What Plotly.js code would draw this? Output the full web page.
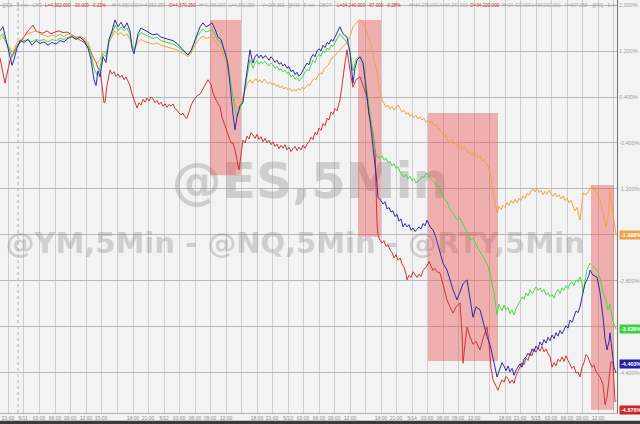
<!DOCTYPE html>
<html><head><meta charset="utf-8">
<script src="https://cdn.plot.ly/plotly-3.0.1.min.js"></script>
<style>html,body{margin:0;padding:0;background:#f3f3f3;}#chart{width:640px;height:424px;}</style>
</head><body><div id="chart"></div>
<script>
// ---- data: [bar index (5-min bars), % change] per series ----
const bluePts = [[0,1.55],[3,1.62],[6,1.40],[9,1.20],[12,0.95],[14,1.05],[17,1.25],[20,1.38],[24,1.35],[28,1.40],[32,1.30],[36,1.38],[40,1.33],[44,1.36],[48,1.30],[52,1.35],[56,1.32],[60,1.38],[64,1.36],[68,1.42],[72,1.45],[76,1.40],[80,1.44],[84,1.38],[88,1.25],[91,1.05],[94,0.70],[96,0.60],[98,0.85],[100,0.75],[103,1.10],[106,1.00],[109,1.40],[112,1.55],[115,1.74],[118,1.62],[121,1.70],[124,1.60],[127,1.69],[130,1.55],[132,1.25],[134,1.15],[136,1.30],[138,1.50],[141,1.60],[145,1.56],[149,1.52],[153,1.48],[157,1.50],[161,1.44],[165,1.42],[169,1.40],[173,1.38],[177,1.33],[181,1.25],[185,1.18],[188,1.13],[191,1.20],[194,1.35],[197,1.50],[200,1.62],[203,1.69],[206,1.62],[209,1.65],[212,1.69],[215,1.58],[218,1.44],[221,1.40],[224,1.20],[227,1.05],[229,0.80],[231,0.40],[233,0.10],[235,-0.17],[237,0.05],[240,0.25],[243,0.30],[245,0.60],[247,0.87],[249,1.10],
[250,1.22],[252,1.05],[253,0.99],[255,1.10],[257,1.14],[259,1.08],[261,1.13],[263,1.07],[265,1.12],[267,1.09],[269,1.04],[271,1.10],[273,1.06],[275,1.00],[277,1.04],[279,0.97],[281,1.00],[283,0.94],[285,0.97],[287,0.90],[289,0.93],[291,0.84],[293,0.87],[295,0.79],[297,0.83],[299,0.76],[301,0.80],[303,0.87],[305,0.92],[307,0.99],[309,0.96],[311,1.08],[313,1.14],[315,1.10],[317,1.20],[319,1.24],[321,1.20],[323,1.30],[325,1.26],[327,1.35],[329,1.32],[331,1.40],[333,1.37],[335,1.45],[337,1.50],[338,1.55],[340,1.62],[343,1.50],[347,1.44],[350,1.17],[353,0.64],[355,0.90],[357,1.04],[360,1.10],[363,0.99],[365,0.70],[367,0.35],[369,0.10],[370,0.00],[372,-0.30],[373,-0.40],[375,-0.80],[377,-1.10],[378,-1.35],
[381,-1.40],[383,-1.46],[385,-1.42],[387,-1.55],[389,-1.52],[391,-1.60],[393,-1.58],[395,-1.68],[397,-1.64],[399,-1.76],[401,-1.72],[403,-1.86],[405,-1.80],[407,-1.86],[409,-1.82],[411,-1.92],[413,-1.88],[415,-1.94],[417,-1.90],[419,-1.86],[421,-1.90],[423,-1.80],[425,-1.84],[427,-1.74],[429,-1.82],[431,-1.88],[433,-1.91],[436,-2.05],[440,-2.30],[443,-2.49],[447,-2.61],[450,-2.80],[453,-2.95],[457,-3.13],[460,-2.98],[463,-2.85],[467,-2.78],[470,-3.10],[473,-3.43],[476,-3.25],[480,-3.30],[483,-3.50],[487,-3.77],[490,-3.90],[493,-4.12],[495,-4.30],[497,-4.47],
[500,-4.30],[502,-4.22],[504,-4.28],[506,-4.36],[508,-4.28],[510,-4.38],[512,-4.32],[514,-4.44],[516,-4.35],[518,-4.30],[520,-4.24],[522,-4.30],[524,-4.16],[526,-4.12],[528,-4.06],[530,-4.10],[532,-3.98],[534,-4.03],[536,-3.93],[538,-3.98],[540,-3.86],[542,-3.92],[544,-3.82],[546,-3.88],[548,-3.78],[550,-3.84],[552,-3.74],[554,-3.80],[556,-3.70],[558,-3.76],[560,-3.66],[562,-3.72],[564,-3.64],[566,-3.58],[568,-3.62],[570,-3.48],[572,-3.52],[574,-3.42],[576,-3.32],[578,-3.35],[580,-3.25],[583,-3.00],[585,-2.85],[587,-2.78],[589,-2.70],[590,-2.61],[593,-2.70],[597,-2.73],[600,-3.00],[603,-3.43],[605,-3.80],[607,-4.00],[609,-3.85],[610,-3.70],[612,-4.00],[614,-4.30],[616,-4.40]];

const greenPts = [[0,1.45],[3,1.50],[6,1.35],[9,1.25],[12,1.10],[14,1.15],[17,1.30],[20,1.36],[24,1.38],[28,1.40],[32,1.36],[36,1.40],[40,1.38],[44,1.40],[48,1.36],[52,1.40],[56,1.38],[60,1.42],[64,1.40],[68,1.44],[72,1.45],[76,1.42],[80,1.44],[84,1.40],[88,1.30],[91,1.15],[94,0.90],[97,0.78],[100,0.92],[103,1.15],[106,1.10],[109,1.40],[112,1.50],[115,1.65],[118,1.55],[121,1.62],[124,1.55],[127,1.60],[130,1.48],[132,1.30],[134,1.22],[136,1.35],[138,1.45],[141,1.52],[145,1.48],[149,1.45],[153,1.42],[157,1.44],[161,1.38],[165,1.36],[169,1.34],[173,1.32],[177,1.28],[181,1.22],[185,1.17],[188,1.13],[191,1.20],[194,1.32],[197,1.45],[200,1.52],[203,1.58],[206,1.53],[209,1.55],[212,1.57],[215,1.48],[218,1.38],[221,1.36],[224,1.20],[227,1.05],[229,0.85],[231,0.60],[233,0.40],[235,0.20],[237,0.05],[240,0.20],[243,0.35],[245,0.55],[247,0.75],[249,0.95],
[250,1.05],[252,0.95],[253,0.90],[255,1.00],[257,1.03],[259,0.97],[261,1.01],[263,0.98],[265,1.02],[267,0.97],[269,0.94],[271,0.99],[273,0.96],[275,0.90],[277,0.93],[279,0.87],[281,0.89],[283,0.84],[285,0.87],[287,0.81],[289,0.83],[291,0.75],[293,0.78],[295,0.71],[297,0.74],[299,0.68],[301,0.71],[303,0.77],[305,0.82],[307,0.88],[309,0.86],[311,0.97],[313,1.04],[315,1.00],[317,1.10],[319,1.14],[321,1.11],[323,1.20],[325,1.17],[327,1.25],[329,1.22],[331,1.30],[333,1.28],[335,1.35],[337,1.40],[338,1.44],[340,1.50],[343,1.42],[347,1.36],[350,1.20],[353,0.85],[355,1.00],[357,1.08],[360,1.10],[363,1.02],[365,0.80],[367,0.50],[369,0.25],[370,0.10],[372,-0.20],[373,-0.30],[375,-0.55],[377,-0.64],
[380,-0.66],[382,-0.62],[384,-0.70],[386,-0.66],[388,-0.74],[390,-0.72],[392,-0.80],[394,-0.76],[396,-0.84],[398,-0.81],[400,-0.90],[402,-0.94],[404,-0.99],[406,-0.95],[408,-1.02],[410,-0.98],[412,-1.06],[414,-1.02],[416,-1.10],[418,-1.06],[420,-1.04],[422,-0.98],[424,-1.00],[426,-0.92],[428,-0.95],[430,-1.00],[432,-1.04],[434,-1.08],[436,-1.12],[438,-1.16],[440,-1.20],[443,-1.34],[447,-1.42],[450,-1.55],[453,-1.62],[457,-1.74],[460,-1.70],[463,-1.82],[467,-1.95],[470,-2.09],[473,-2.05],[477,-2.20],[480,-2.30],[483,-2.38],[487,-2.50],[490,-2.66],[492,-2.85],[494,-3.00],[497,-3.39],[499,-3.20],
[500,-3.25],[502,-3.32],[504,-3.22],[506,-3.30],[508,-3.26],[510,-3.37],[512,-3.30],[514,-3.39],[516,-3.28],[518,-3.20],[520,-3.15],[522,-3.08],[524,-3.12],[526,-3.01],[528,-3.06],[530,-2.95],[532,-3.02],[534,-2.97],[536,-2.90],[538,-2.96],[540,-2.92],[542,-2.99],[544,-2.95],[546,-3.04],[548,-3.00],[550,-3.07],[552,-3.03],[554,-3.10],[556,-3.00],[558,-2.95],[560,-3.02],[562,-2.92],[564,-2.96],[566,-2.88],[568,-2.93],[570,-2.85],[572,-2.82],[574,-2.88],[576,-2.78],[578,-2.82],[580,-2.73],[582,-2.85],[583,-3.01],[585,-2.80],[587,-2.60],[590,-2.49],[593,-2.55],[597,-2.61],[600,-2.75],[603,-3.00],[606,-3.13],[608,-3.30],[610,-3.20],[612,-3.45],[614,-3.55],[616,-3.64]];

const orangePts = [[0,1.40],[3,1.45],[6,1.35],[9,1.28],[12,1.18],[14,1.22],[17,1.35],[20,1.40],[24,1.45],[28,1.50],[32,1.52],[36,1.55],[40,1.50],[44,1.48],[48,1.45],[52,1.48],[56,1.45],[60,1.50],[64,1.45],[68,1.50],[72,1.48],[76,1.44],[80,1.46],[84,1.42],[88,1.35],[91,1.20],[94,1.05],[97,0.99],[100,1.05],[103,1.20],[106,1.15],[109,1.35],[112,1.45],[115,1.55],[118,1.48],[121,1.52],[124,1.46],[127,1.50],[130,1.40],[132,1.28],[134,1.22],[136,1.30],[138,1.36],[141,1.40],[145,1.36],[149,1.34],[153,1.32],[157,1.34],[161,1.30],[165,1.28],[169,1.26],[173,1.25],[177,1.22],[181,1.18],[185,1.13],[188,1.10],[191,1.16],[194,1.25],[197,1.36],[200,1.42],[203,1.46],[206,1.42],[209,1.44],[212,1.45],[215,1.38],[218,1.30],[221,1.25],[224,1.10],[227,0.95],[229,0.80],[231,0.60],[233,0.42],[235,0.30],[237,0.20],[240,0.25],[243,0.40],[245,0.50],[247,0.62],
[250,0.70],[252,0.64],[254,0.69],[256,0.72],[258,0.66],[260,0.70],[262,0.65],[264,0.71],[266,0.67],[268,0.63],[270,0.66],[272,0.61],[274,0.64],[276,0.59],[278,0.61],[280,0.56],[282,0.59],[284,0.54],[286,0.57],[288,0.52],[290,0.55],[292,0.50],[294,0.53],[296,0.50],[298,0.55],[300,0.52],[302,0.57],[304,0.54],[306,0.58],[308,0.62],[310,0.60],[312,0.68],[314,0.72],[316,0.70],[318,0.78],[320,0.82],[322,0.80],[324,0.88],[326,0.92],[328,0.95],[330,1.02],[332,1.08],[334,1.10],[336,1.15],[338,1.18],[340,1.22],[344,1.30],[347,1.34],[350,1.45],[353,1.62],[356,1.68],[358,1.72],[360,1.74],[362,1.70],[363,1.69],[365,1.62],[367,1.50],[370,1.39],[372,1.20],[374,1.05],[377,0.87],[379,0.60],
[382,0.35],[384,0.28],[386,0.22],[388,0.26],[390,0.19],[392,0.24],[394,0.17],[396,0.22],[398,0.26],[400,0.20],[402,0.14],[404,0.17],[406,0.10],[408,0.13],[410,0.06],[412,0.10],[414,0.04],[416,0.08],[418,0.02],[420,0.06],[422,0.00],[424,0.03],[426,-0.04],[428,0.00],[430,-0.06],[432,-0.02],[434,-0.10],[436,-0.08],[438,-0.15],[440,-0.17],[442,-0.22],[444,-0.30],[446,-0.26],[448,-0.36],[450,-0.40],[452,-0.34],[454,-0.43],[456,-0.38],[458,-0.47],[460,-0.44],[462,-0.52],[464,-0.46],[466,-0.50],[468,-0.58],[470,-0.55],[472,-0.62],[474,-0.54],[476,-0.63],[478,-0.66],[480,-0.62],[482,-0.72],[484,-0.68],[486,-0.76],[488,-0.80],[490,-0.92],[492,-1.15],[494,-1.35],[496,-1.50],[497,-1.62],[499,-1.50],
[501,-1.56],[503,-1.48],[505,-1.52],[507,-1.44],[509,-1.49],[511,-1.40],[513,-1.45],[515,-1.38],[517,-1.44],[519,-1.36],[521,-1.40],[523,-1.32],[525,-1.36],[527,-1.28],[529,-1.31],[531,-1.24],[533,-1.20],[535,-1.25],[537,-1.18],[539,-1.26],[541,-1.22],[543,-1.30],[545,-1.24],[547,-1.29],[549,-1.22],[551,-1.28],[553,-1.33],[555,-1.27],[557,-1.34],[559,-1.30],[561,-1.37],[563,-1.32],[565,-1.40],[567,-1.36],[569,-1.44],[571,-1.40],[573,-1.50],[575,-1.58],[577,-1.52],[579,-1.70],[580,-1.74],[582,-1.45],[583,-1.27],[586,-1.30],[588,-1.25],[590,-1.22],[592,-1.15],[594,-1.20],[596,-1.25],[600,-1.39],[603,-1.60],[606,-1.86],[608,-1.70],[610,-1.22],[612,-1.50],[614,-1.80],[616,-2.00]];

const redPts = [[0,1.08],[2,0.90],[5,0.64],[7,0.80],[10,1.04],[13,1.15],[16,1.25],[20,1.34],[24,1.45],[28,1.55],[33,1.65],[36,1.55],[40,1.52],[43,1.51],[47,1.55],[51,1.50],[55,1.53],[59,1.55],[63,1.52],[67,1.53],[70,1.50],[74,1.45],[77,1.42],[80,1.39],[84,1.35],[87,1.28],[90,1.22],[93,1.10],[96,1.00],[98,0.90],[100,0.87],[102,0.60],[104,0.30],[105,0.31],[107,0.60],
[110,0.87],[112,0.80],[114,0.84],[116,0.76],[118,0.80],[120,0.74],[122,0.78],[124,0.70],[126,0.75],[128,0.68],[130,0.60],[132,0.45],[134,0.35],[136,0.25],[137,0.21],[139,0.30],[141,0.26],[143,0.36],[145,0.31],[147,0.38],[149,0.33],[151,0.40],[153,0.37],[155,0.30],[157,0.34],[159,0.27],[161,0.31],[163,0.24],[165,0.28],[167,0.22],[169,0.27],[171,0.24],[173,0.28],[175,0.20],[177,0.17],[179,0.12],[181,0.09],[183,0.12],[185,0.05],[187,0.03],[189,0.15],[191,0.25],[193,0.33],[195,0.38],[197,0.42],[200,0.45],[203,0.55],[206,0.66],[208,0.70],[211,0.62],[213,0.47],[216,0.35],[218,0.30],[220,0.23],[222,0.05],[224,-0.05],[227,-0.17],[229,-0.30],[231,-0.40],[233,-0.40],[235,-0.52],[237,-0.70],[239,-0.87],
[241,-0.60],[243,-0.35],[245,-0.40],[247,-0.28],[249,-0.33],[251,-0.22],[253,-0.26],[255,-0.32],[257,-0.25],[259,-0.34],[261,-0.29],[263,-0.38],[265,-0.32],[267,-0.40],[269,-0.35],[271,-0.43],[273,-0.38],[275,-0.46],[277,-0.42],[279,-0.50],[281,-0.44],[283,-0.49],[285,-0.43],[287,-0.52],[289,-0.47],[291,-0.55],[293,-0.50],[295,-0.46],[297,-0.53],[299,-0.47],[301,-0.52],[303,-0.44],[305,-0.49],[307,-0.42],[309,-0.38],[311,-0.30],[313,-0.34],[315,-0.22],[317,-0.26],[319,-0.14],[321,-0.18],[323,-0.06],[325,-0.10],[327,0.03],[329,0.00],[331,0.14],[333,0.10],[335,0.20],[337,0.16],[339,0.30],[340,0.35],[342,0.60],[343,0.75],[345,1.00],[347,1.22],[349,0.95],[351,0.75],[353,0.57],[356,0.70],[360,0.75],[363,0.60],[367,0.40],[369,0.10],[371,-0.10],[373,-0.23],[375,-0.52],[376,-1.20],[377,-1.80],[378,-2.00],
[380,-2.09],[382,-2.14],[384,-2.10],[386,-2.20],[388,-2.17],[390,-2.26],[392,-2.30],[394,-2.40],[396,-2.34],[398,-2.44],[400,-2.40],[402,-2.50],[404,-2.56],[406,-2.68],[407,-2.78],[409,-2.70],[411,-2.74],[413,-2.64],[415,-2.70],[417,-2.74],[419,-2.68],[421,-2.72],[423,-2.62],[425,-2.58],[427,-2.54],[429,-2.46],[431,-2.55],[433,-2.62],[435,-2.58],[437,-2.64],[440,-2.66],[443,-2.85],[447,-3.13],[450,-3.25],[453,-3.36],[456,-3.25],[460,-3.18],[462,-3.70],[463,-4.23],[465,-3.90],[467,-3.60],[470,-3.77],[473,-3.90],[476,-3.85],[480,-4.00],[483,-3.80],[487,-3.60],[489,-3.90],[491,-4.30],[493,-4.52],[495,-4.60],[498,-4.70],
[500,-4.60],[502,-4.52],[504,-4.56],[506,-4.46],[508,-4.50],[510,-4.58],[512,-4.52],[514,-4.58],[516,-4.45],[518,-4.38],[520,-4.30],[522,-4.22],[524,-4.26],[526,-4.14],[528,-4.18],[530,-4.05],[532,-4.10],[534,-3.98],[536,-4.04],[538,-3.96],[540,-4.02],[542,-3.94],[544,-4.03],[546,-3.98],[548,-4.06],[550,-4.12],[552,-4.30],[554,-4.22],[556,-4.28],[558,-4.16],[560,-4.20],[562,-4.12],[564,-4.20],[566,-4.10],[568,-4.18],[570,-4.26],[572,-4.32],[574,-4.28],[576,-4.40],[578,-4.38],[580,-4.47],[582,-4.30],[584,-4.22],[586,-4.08],[588,-4.12],[590,-4.22],[592,-4.30],[594,-4.26],[596,-4.38],[598,-4.42],[600,-4.47],[603,-4.60],[605,-4.95],[607,-4.82],[609,-4.50],[611,-4.20],[613,-4.23],[614,-4.60],[615,-4.90],[616,-4.88]];

const lastLabels = ['-1.998%','-3.636%','-4.403%','-4.876%'];
const tickVals = [8,23,39,55,70,86,101,117,133,148,164,179,195,210,226,241,257,272,288,303,319,334,350,365,381,396,412,427,443,458,474,489,505,520,536,551,567,582,598,613];
const tickText = ['21:00','5/11','03:00','06:00','09:00','12:00','15:00','','18:00','21:00','5/12','03:00','06:00','09:00','12:00','','18:00','21:00','5/13','03:00','06:00','09:00','12:00','','18:00','21:00','5/14','03:00','06:00','09:00','12:00','','18:00','21:00','5/15','03:00','06:00','09:00','12:00',''];
const yTicks = [2.0,1.2,0.4,-0.4,-1.2,-2.0,-2.8,-3.6,-4.4];
const yTickHidden = [-2.0,-3.6];   // covered by last-value badges in the original
const highlightSpans = [[210,241,1.74,-0.96],[358,381,1.74,-2.03],[428,498,0.12,-4.19],[591,614,-1.13,-5.04]];
const sessionBreaks = [18];

const C = {blue:'#2c2ca6', green:'#4ad64a', orange:'#f0a245', red:'#cf3535'};
function tr(pts,c){return {x:pts.map(p=>p[0]),y:pts.map(p=>p[1]),type:'scatter',mode:'lines',line:{color:c,width:1},hoverinfo:'skip'};}
const traces = [tr(redPts,C.red), tr(orangePts,C.orange), tr(greenPts,C.green), tr(bluePts,C.blue)];

const shapes = [];
sessionBreaks.forEach(b=>shapes.push({type:'line',xref:'x',yref:'paper',x0:b,x1:b,y0:0,y1:1,line:{color:'#b0b0b0',width:1,dash:'dot'},layer:'between'}));
shapes.push({type:'rect',xref:'x',yref:'y',x0:150,x1:470,y0:-0.6,y1:-1.4,line:{width:0},fillcolor:'rgba(0,0,0,0)',layer:'between',
  label:{text:'<b>@ES,5Min</b>',font:{family:'DejaVu Sans',size:50,color:'rgba(140,140,140,0.36)'},textposition:'middle center'}});
shapes.push({type:'rect',xref:'x',yref:'y',x0:0,x1:590,y0:-1.9,y1:-2.3,line:{width:0},fillcolor:'rgba(0,0,0,0)',layer:'between',
  label:{text:'<b>@YM,5Min - @NQ,5Min - @RTY,5Min</b>',font:{family:'DejaVu Sans',size:29,color:'rgba(140,140,140,0.36)'},textposition:'middle center'}});
highlightSpans.forEach(s=>shapes.push({type:'rect',xref:'x',yref:'y',x0:s[0],x1:s[1],y0:s[2],y1:s[3],line:{width:0},fillcolor:'rgba(236,72,72,0.40)',layer:'between'}));
shapes.push({type:'rect',xref:'paper',yref:'paper',x0:0,x1:1.04,y0:-0.0266,y1:-0.019,line:{width:0},fillcolor:'#3b3b3b'});

const ann = [];
const hdr = [
 [0,'@ES · 5 min · CME','#a8a8a8'],[43,'L=4,302.000  -10.000  -0.23%','#c83030'],[110,'H=4,350.000','#a8a8a8'],[137,'A=4,352.250','#a8a8a8'],
 [167,'O=4,370.250','#c83030'],[197,'H=4,386.000','#a8a8a8'],[227,'L=4,302.250','#a8a8a8'],[260,'V=188,363','#a8a8a8'],[286,'@YM · 5 min · CBOT','#a8a8a8'],
 [335,'L=34,240.000  -97.000  -0.28%','#c83030'],[407,'H=34,275.000','#a8a8a8'],[437,'A=34,241.000','#a8a8a8'],[468,'O=34,220.000','#c83030'],
 [500,'H=34,421.000','#a8a8a8'],[530,'L=34,231.000','#a8a8a8'],[563,'V=607,358','#a8a8a8'],[590,'@NQ · 5 m','#a8a8a8']];
hdr.forEach(h=>ann.push({xref:'x',yref:'paper',x:h[0],y:1,xanchor:'left',yanchor:'top',text:h[1],showarrow:false,font:{family:'Liberation Sans',size:4.6,color:h[2]},yshift:-1}));
const lastVals = [orangePts, greenPts, bluePts, redPts].map(p=>p[p.length-1][1]);
const badgeCols = [C.orange,'#3ecf3e','#2222a0','#cc2424'];
const badgeShift = [0,0,9,-9];
lastVals.forEach((v,i)=>ann.push({xref:'paper',yref:'y',x:1.003,y:v,xanchor:'left',yanchor:'middle',text:'<b>'+lastLabels[i]+'</b>',showarrow:false,
  bgcolor:badgeCols[i],font:{family:'Liberation Sans',size:5.5,color:'#ffffff'},borderpad:1,yshift:badgeShift[i]}));

const layout = {
  width:640,height:424,margin:{l:0,r:23,t:0,b:11},
  paper_bgcolor:'#f3f3f3',plot_bgcolor:'#f3f3f3',showlegend:false,
  xaxis:{range:[0,617],tickvals:tickVals,ticktext:tickText,showgrid:true,gridcolor:'#cdcdcd',gridwidth:1,zeroline:false,
    showline:true,linecolor:'#b0b0b0',ticks:'',tickfont:{family:'Liberation Sans',size:5,color:'#8a8a8a'},fixedrange:true},
  yaxis:{range:[-5.096,2.087],side:'right',tickvals:yTicks,ticktext:yTicks.map(v=>yTickHidden.includes(v)?'':v.toFixed(3)+'%'),showgrid:true,gridcolor:'#b9b9b9',gridwidth:1,
    zeroline:false,showline:true,linecolor:'#707070',ticks:'',tickfont:{family:'Liberation Sans',size:5.5,color:'#a0a0a0'},fixedrange:true},
  shapes:shapes,annotations:ann
};
Plotly.newPlot('chart',traces,layout,{staticPlot:true});
</script></body></html>
